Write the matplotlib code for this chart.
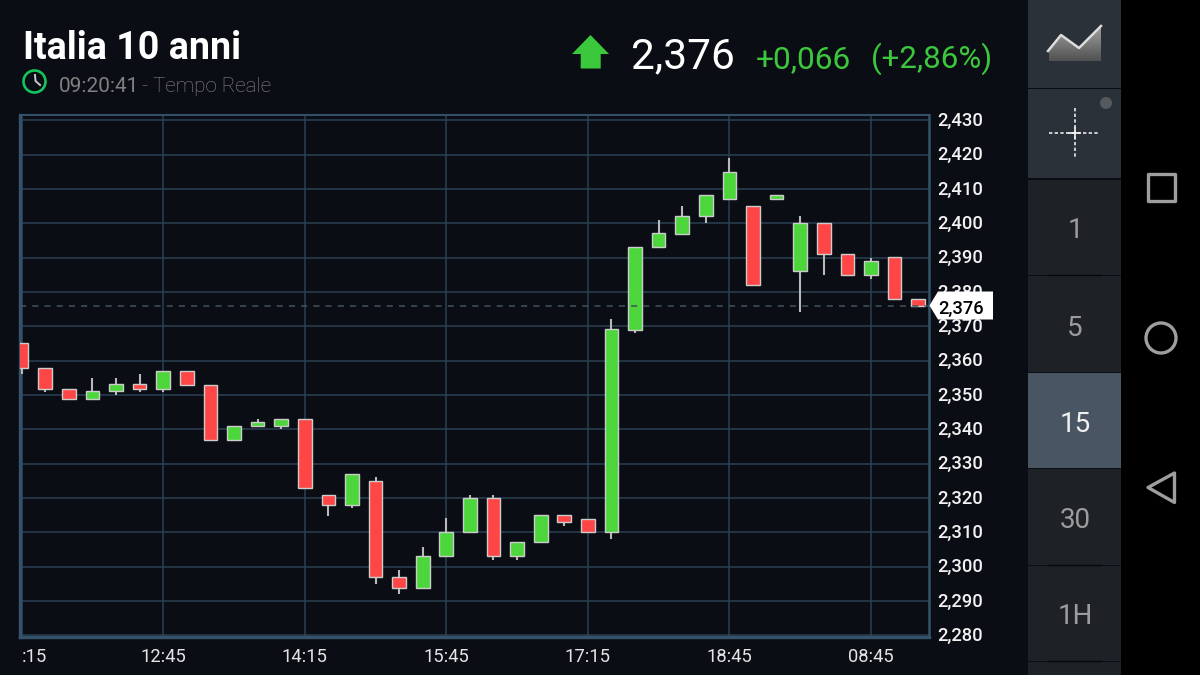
import numpy as np
import matplotlib
matplotlib.use("Agg")
import matplotlib.pyplot as plt
from matplotlib.patches import Circle, Polygon, Rectangle
from matplotlib.transforms import Bbox, ScaledTranslation

# candles, left to right (15 min)
opens = [2.3651, 2.3580, 2.3518, 2.3488, 2.3511, 2.3531, 2.3518, 2.3571, 2.3530, 2.3369,
         2.3410, 2.3410, 2.3430, 2.3210, 2.3180, 2.3250, 2.2971, 2.2939, 2.3030, 2.3101,
         2.3200, 2.3030, 2.3071, 2.3151, 2.3139, 2.3101, 2.3689, 2.3930, 2.3970, 2.4022,
         2.4070, 2.4051, 2.4070, 2.3860, 2.4000, 2.3911, 2.3849, 2.3901, 2.3780]
closes = [2.3580, 2.3518, 2.3488, 2.3511, 2.3531, 2.3518, 2.3571, 2.3530, 2.3369, 2.3410,
          2.3421, 2.3430, 2.3229, 2.3180, 2.3271, 2.2971, 2.2939, 2.3030, 2.3101, 2.3200,
          2.3030, 2.3071, 2.3151, 2.3130, 2.3101, 2.3691, 2.3932, 2.3971, 2.4022, 2.4082,
          2.4149, 2.3820, 2.4082, 2.4000, 2.3911, 2.3849, 2.3890, 2.3780, 2.3760]
highs = [2.3651, 2.3580, 2.3518, 2.3550, 2.3550, 2.3561, 2.3571, 2.3571, 2.3530, 2.3410,
         2.3430, 2.3430, 2.3430, 2.3210, 2.3271, 2.3261, 2.2991, 2.3059, 2.3141, 2.3209,
         2.3209, 2.3071, 2.3151, 2.3151, 2.3139, 2.3721, 2.3932, 2.4010, 2.4050, 2.4082,
         2.4189, 2.4051, 2.4082, 2.4022, 2.4000, 2.3911, 2.3900, 2.3901, 2.3780]
lows = [2.3561, 2.3509, 2.3488, 2.3488, 2.3501, 2.3509, 2.3509, 2.3530, 2.3369, 2.3369,
        2.3410, 2.3400, 2.3229, 2.3149, 2.3171, 2.2951, 2.2920, 2.2939, 2.3030, 2.3101,
        2.3020, 2.3020, 2.3071, 2.3119, 2.3101, 2.3081, 2.3682, 2.3930, 2.3970, 2.4001,
        2.4070, 2.3820, 2.4070, 2.3742, 2.3850, 2.3849, 2.3839, 2.3780, 2.3760]

y_ticks = [2.28, 2.29, 2.30, 2.31, 2.32, 2.33, 2.34, 2.35, 2.36, 2.37, 2.38, 2.39, 2.40, 2.41, 2.42, 2.43]
y_labels = ["2,280", "2,290", "2,300", "2,310", "2,320", "2,330", "2,340", "2,350",
            "2,360", "2,370", "2,380", "2,390", "2,400", "2,410", "2,420", "2,430"]
x_ticks = [0, 6, 12, 18, 24, 30, 36]
x_labels = [":15", "12:45", "14:15", "15:45", "17:15", "18:45", "08:45"]
last_price = 2.376
timeframes = ["1", "5", "15", "30", "1H"]

BG = "#0a0e14"
GRID = "#2a4052"
FRAME = "#34536b"
RED = "#ff4646"
GREEN = "#4cd63c"
TXT_GREEN = "#3cc83c"
plt.rcParams["font.family"] = ["Roboto", "DejaVu Sans"]

fig = plt.figure(figsize=(12, 6.75), dpi=100, facecolor=BG)

# chart area, placed to the pixel
ax = fig.add_axes([20 / 1200, (675 - 637) / 675, 909 / 1200, 522.5 / 675], facecolor=BG, zorder=1)
ax.set_xlim(-0.07, 38.46)
ax.set_ylim(2.27956, 2.43167)
ax.set_axisbelow(True)
ax.grid(True, color=GRID, linewidth=1.1)
for s in ax.spines.values():
    s.set_color(FRAME)
    s.set_linewidth(1.4)
ax.spines["left"].set_linewidth(2.4)
ax.spines["bottom"].set_linewidth(2.4)
ax.spines["right"].set_linewidth(1.8)

ax.yaxis.tick_right()
ax.set_yticks(y_ticks)
ax.set_yticklabels(y_labels, fontsize=13.2, fontweight="medium", color="#f2f2f2")
ax.set_xticks(x_ticks)
ax.set_xticklabels(x_labels, fontsize=13.2, color="#e4e4e4")
ax.xaxis.get_majorticklabels()[0].set_ha("left")
ax.tick_params(axis="both", length=0)
ax.tick_params(axis="y", pad=6)
ax.tick_params(axis="x", pad=8)

# labels sit a bit higher than the grid lines
nudge = ScaledTranslation(0, 1.5 / 100, fig.dpi_scale_trans)
for lab in ax.yaxis.get_majorticklabels():
    lab.set_transform(lab.get_transform() + nudge)

# top label gets cut off in the app
top_label = ax.yaxis.get_majorticklabels()[-1]
top_label.set_clip_box(Bbox([[930, 0], [1020, 675 - 113]]))
top_label.set_clip_on(True)

x = np.arange(len(opens))
o = np.array(opens)
c = np.array(closes)
colors = [GREEN if b > a else RED for a, b in zip(o, c)]
ax.vlines(x, lows, highs, color="#b9b9b9", linewidth=1.5, zorder=3)
ax.bar(x, np.abs(c - o), bottom=np.minimum(o, c), width=0.58, color=colors,
       edgecolor="#cccccc", linewidth=1.0, zorder=4)
ax.axhline(last_price, color="#42525f", linewidth=1.1, linestyle=(0, (4, 4)), zorder=5)

# app chrome in pixel coordinates
ui = fig.add_axes([0, 0, 1, 1], facecolor="none", zorder=2)
ui.axis("off")


def rect(x0, y0, x1, y1, color):
    ui.add_patch(Rectangle((x0, y0), x1 - x0, y1 - y0, facecolor=color, edgecolor="none"))


rect(1121, 0, 1200, 675, "#000000")
rect(1028, 0, 1121, 88, "#2b3139")
rect(1028, 89, 1121, 178, "#2b3139")
rect(1028, 180, 1121, 275, "#1e2227")
rect(1028, 276, 1121, 372, "#1e2227")
rect(1028, 373, 1121, 468, "#4a5563")
rect(1028, 469, 1121, 565, "#1e2227")
rect(1028, 566, 1121, 661, "#1e2227")
rect(1028, 662, 1121, 675, "#1e2227")
for yd in [275, 564.5, 661]:
    ui.plot([1049, 1101], [yd, yd], color="#060709", linewidth=1.0)

for label, yc in zip(timeframes, [228, 325, 421, 517, 613]):
    ui.text(1075, yc, label, ha="center", va="center_baseline", fontsize=20,
            color="#f0f0f0" if label == "15" else "#9c9c9c")

# line chart icon
icon_pts = [(1049, 61), (1049, 50), (1061, 36), (1079, 48), (1101, 27), (1101, 61)]
icon = Polygon(icon_pts, closed=True, transform=ui.transData, facecolor="none", edgecolor="none")
ui.add_patch(icon)
grad = np.linspace(0.62, 0.32, 40).reshape(-1, 1)
im = ui.imshow(grad, extent=(1049, 1101, 61, 27), cmap="gray", vmin=0, vmax=1, aspect="auto", zorder=3)
im.set_clip_path(icon)
ui.plot([1048, 1061, 1079, 1101], [51, 35, 48, 26], color="#dcdcdc", linewidth=1.8, zorder=4)

# crosshair icon
ui.plot([1049, 1100], [133, 133], color="#e8e8e8", linewidth=1.2, linestyle=(0, (2, 1.4)))
ui.plot([1074.5, 1074.5], [108, 159], color="#e8e8e8", linewidth=1.2, linestyle=(0, (2, 1.4)))
ui.plot([1069, 1080], [133, 133], color="#f4f4f4", linewidth=1.2)
ui.plot([1074.5, 1074.5], [128, 138], color="#f4f4f4", linewidth=1.2)
ui.add_patch(Circle((1106, 103), 6, facecolor="#565a5e", edgecolor="none"))

# android nav buttons
ui.add_patch(Rectangle((1147.5, 174), 27, 27, facecolor="none", edgecolor="#9e9e9e", linewidth=2.4, joinstyle="round"))
ui.add_patch(Circle((1161, 338), 15, facecolor="none", edgecolor="#9e9e9e", linewidth=2.4))
ui.add_patch(Polygon([(1148, 487.5), (1174.5, 473), (1174.5, 502.5)], closed=True, facecolor="none",
                     edgecolor="#9e9e9e", linewidth=2.4, joinstyle="round"))

# header
ui.text(23, 59, "Italia 10 anni", fontsize=27.1, fontweight="bold", color="#ffffff", va="baseline")
ui.text(59, 92, "09:20:41", fontsize=15, color="#808080", va="baseline")
ui.text(142, 92, "- Tempo Reale", fontsize=14.9, fontweight="light", color="#8a8a8a", va="baseline")
ui.add_patch(Circle((34.5, 81.5), 11, facecolor="none", edgecolor="#14c45c", linewidth=1.9))
ui.plot([35, 35.5, 40], [75, 81, 85], color="#c8c8c8", linewidth=1.4)
ui.add_patch(Polygon([(572, 54), (590.5, 35), (609, 54), (600.7, 54), (600.7, 68.5), (580.7, 68.5), (580.7, 54)],
                     closed=True, facecolor=TXT_GREEN, edgecolor="none"))
ui.text(631, 68, "2,376", fontsize=30.5, color="#ffffff", va="baseline")
ui.text(756, 68, "+0,066", fontsize=22.8, color=TXT_GREEN, va="baseline")
ui.text(871, 68, "(+2,86%)", fontsize=22.5, color=TXT_GREEN, va="baseline")

# last price tag
ui.add_patch(Polygon([(929.5, 305.5), (938, 291.5), (993, 291.5), (993, 319.5), (938, 319.5)],
                     closed=True, facecolor="#ffffff", edgecolor="none"))
ui.text(938.5, 307, "2,376", fontsize=13.2, fontweight="medium", color="#000000", va="center_baseline")

ui.set_xlim(0, 1200)
ui.set_ylim(675, 0)

fig.savefig("out.png", dpi=100, facecolor=BG)
